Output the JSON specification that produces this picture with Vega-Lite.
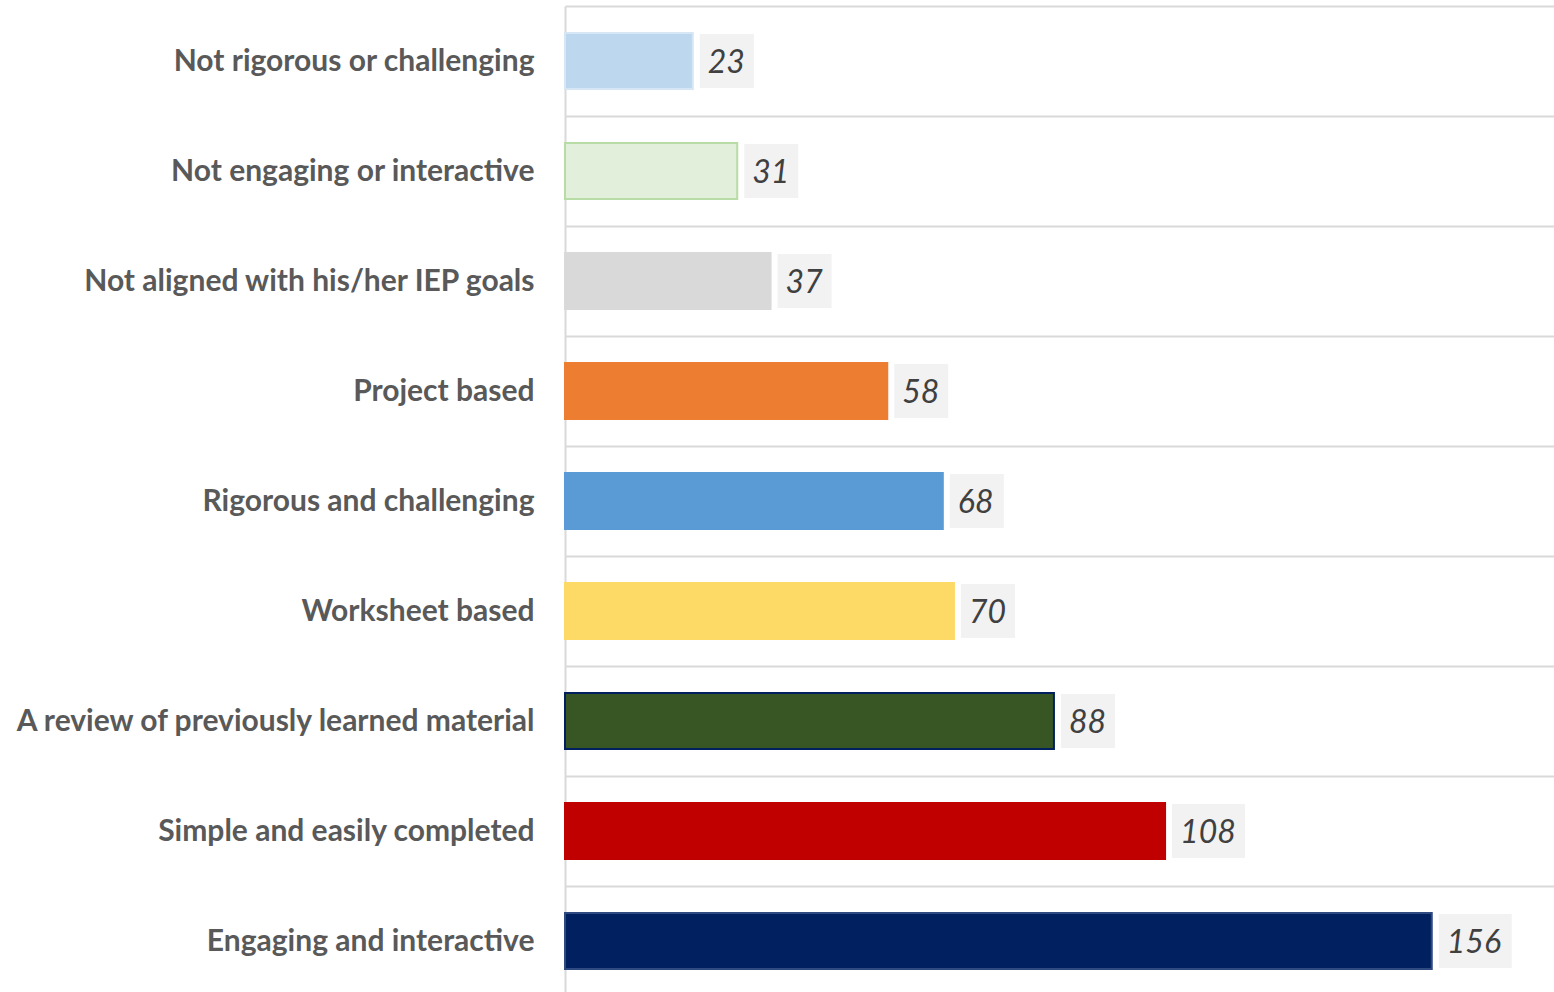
{
  "$schema": "https://vega.github.io/schema/vega-lite/v6.json",
  "autosize": "none",
  "width": 989,
  "height": 990,
  "padding": {"left": 565, "top": 6, "right": 0, "bottom": 0},
  "background": "white",
  "config": {"view": {"stroke": null}},
  "data": {"values": [
    {"category": "Not rigorous or challenging", "value": 23},
    {"category": "Not engaging or interactive", "value": 31},
    {"category": "Not aligned with his/her IEP goals", "value": 37},
    {"category": "Project based", "value": 58},
    {"category": "Rigorous and challenging", "value": 68},
    {"category": "Worksheet based", "value": 70},
    {"category": "A review of previously learned material", "value": 88},
    {"category": "Simple and easily completed", "value": 108},
    {"category": "Engaging and interactive", "value": 156}
  ]},
  "encoding": {
    "y": {
      "field": "category", "type": "nominal",
      "sort": ["Not rigorous or challenging", "Not engaging or interactive", "Not aligned with his/her IEP goals", "Project based", "Rigorous and challenging", "Worksheet based", "A review of previously learned material", "Simple and easily completed", "Engaging and interactive"],
      "scale": {"paddingInner": 0, "paddingOuter": 0},
      "axis": {
        "title": null, "ticks": false, "grid": true, "tickBand": "extent",
        "gridColor": "#d9d9d9", "gridWidth": 2,
        "domain": true, "domainColor": "#d9d9d9", "domainWidth": 2,
        "labelFont": "Lato", "labelFontWeight": "bold", "labelFontSize": 30,
        "labelColor": "#595959", "labelPadding": 31, "labelLimit": 600
      }
    }
  },
  "layer": [
    {
      "mark": {"type": "bar", "strokeWidth": 2, "height": 56},
      "encoding": {
        "x": {"field": "value", "type": "quantitative", "scale": {"domain": [0, 178], "nice": false}, "axis": null},
        "color": {
          "field": "category", "type": "nominal", "legend": null,
          "scale": {
            "domain": ["Not rigorous or challenging", "Not engaging or interactive", "Not aligned with his/her IEP goals", "Project based", "Rigorous and challenging", "Worksheet based", "A review of previously learned material", "Simple and easily completed", "Engaging and interactive"],
            "range": ["#BDD7EE", "#E2EFDA", "#D9D9D9", "#ED7D31", "#5B9BD5", "#FDD966", "#375623", "#C00000", "#002060"]
          }
        },
        "stroke": {
          "field": "category", "type": "nominal", "legend": null,
          "scale": {
            "domain": ["Not rigorous or challenging", "Not engaging or interactive", "Not aligned with his/her IEP goals", "Project based", "Rigorous and challenging", "Worksheet based", "A review of previously learned material", "Simple and easily completed", "Engaging and interactive"],
            "range": ["#D6E6F5", "#B7DCA5", "#D9D9D9", "#ED7D31", "#5B9BD5", "#FDD966", "#002060", "#C00000", "#2F4A80"]
          }
        }
      }
    },
    {
      "transform": [{"filter": "datum.value < 100"}],
      "mark": {"type": "bar", "color": "#f2f2f2", "xOffset": 7, "x2Offset": 61, "height": 54},
      "encoding": {
        "x": {"field": "value", "type": "quantitative"},
        "x2": {"field": "value"}
      }
    },
    {
      "transform": [{"filter": "datum.value >= 100"}],
      "mark": {"type": "bar", "color": "#f2f2f2", "xOffset": 7, "x2Offset": 80, "height": 54},
      "encoding": {
        "x": {"field": "value", "type": "quantitative"},
        "x2": {"field": "value"}
      }
    },
    {
      "mark": {"type": "text", "align": "left", "baseline": "middle", "dx": 15, "dy": 2, "font": "Lato", "fontStyle": "italic", "fontSize": 32, "color": "#404040"},
      "encoding": {
        "x": {"field": "value", "type": "quantitative"},
        "text": {"field": "value", "type": "quantitative"}
      }
    }
  ]
}
